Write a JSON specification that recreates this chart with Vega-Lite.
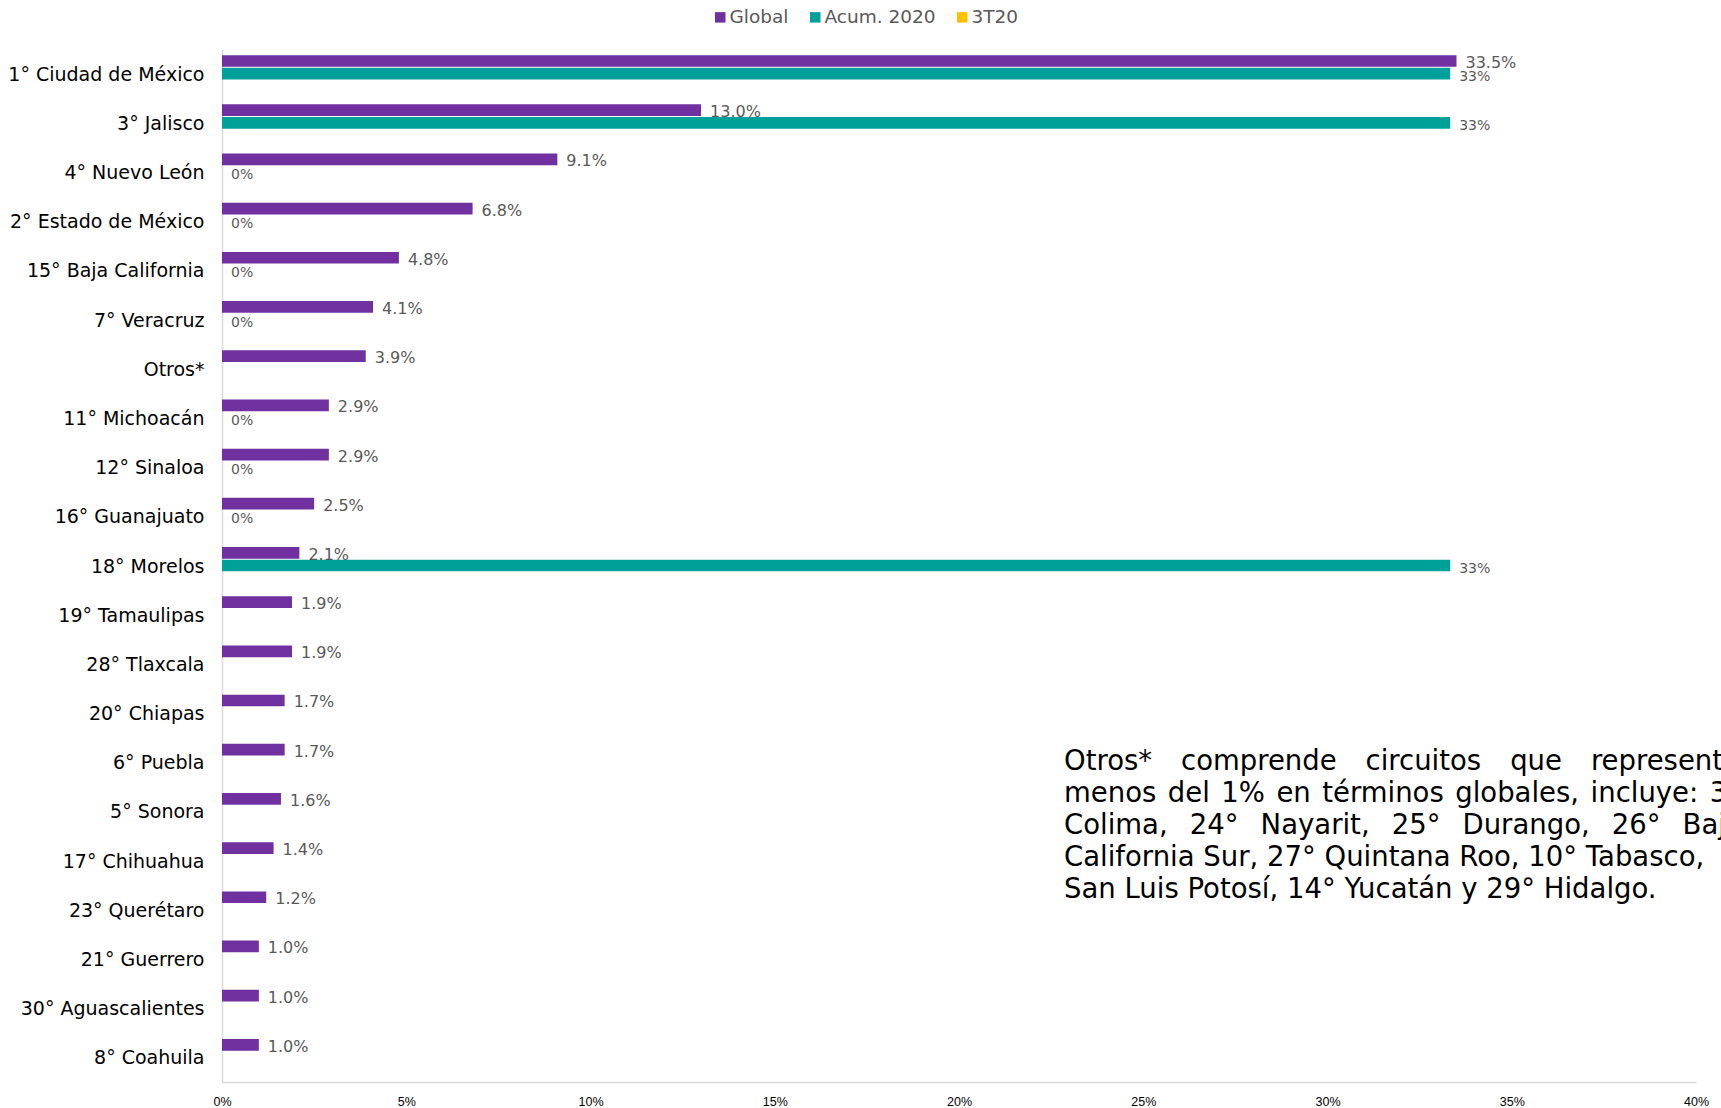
{
  "$schema": "https://vega.github.io/schema/vega-lite/v6.json",
  "width": 1474,
  "height": 1033,
  "autosize": {"type": "none"},
  "padding": {"left": 222, "top": 49, "right": 25, "bottom": 26},
  "background": "white",
  "config": {"view": {"stroke": null}, "font": "DejaVu Sans"},
  "layer": [
    {
      "data": {
        "values": [
          {"estado": "1° Ciudad de México", "serie": "Global", "valor": 0.335},
          {"estado": "1° Ciudad de México", "serie": "Acum. 2020", "valor": 0.3333},
          {"estado": "3° Jalisco", "serie": "Global", "valor": 0.13},
          {"estado": "3° Jalisco", "serie": "Acum. 2020", "valor": 0.3333},
          {"estado": "4° Nuevo León", "serie": "Global", "valor": 0.091},
          {"estado": "4° Nuevo León", "serie": "Acum. 2020", "valor": 0},
          {"estado": "2° Estado de México", "serie": "Global", "valor": 0.068},
          {"estado": "2° Estado de México", "serie": "Acum. 2020", "valor": 0},
          {"estado": "15° Baja California", "serie": "Global", "valor": 0.048},
          {"estado": "15° Baja California", "serie": "Acum. 2020", "valor": 0},
          {"estado": "7° Veracruz", "serie": "Global", "valor": 0.041},
          {"estado": "7° Veracruz", "serie": "Acum. 2020", "valor": 0},
          {"estado": "Otros*", "serie": "Global", "valor": 0.039},
          {"estado": "11° Michoacán", "serie": "Global", "valor": 0.029},
          {"estado": "11° Michoacán", "serie": "Acum. 2020", "valor": 0},
          {"estado": "12° Sinaloa", "serie": "Global", "valor": 0.029},
          {"estado": "12° Sinaloa", "serie": "Acum. 2020", "valor": 0},
          {"estado": "16° Guanajuato", "serie": "Global", "valor": 0.025},
          {"estado": "16° Guanajuato", "serie": "Acum. 2020", "valor": 0},
          {"estado": "18° Morelos", "serie": "Global", "valor": 0.021},
          {"estado": "18° Morelos", "serie": "Acum. 2020", "valor": 0.3333},
          {"estado": "19° Tamaulipas", "serie": "Global", "valor": 0.019},
          {"estado": "28° Tlaxcala", "serie": "Global", "valor": 0.019},
          {"estado": "20° Chiapas", "serie": "Global", "valor": 0.017},
          {"estado": "6° Puebla", "serie": "Global", "valor": 0.017},
          {"estado": "5° Sonora", "serie": "Global", "valor": 0.016},
          {"estado": "17° Chihuahua", "serie": "Global", "valor": 0.014},
          {"estado": "23° Querétaro", "serie": "Global", "valor": 0.012},
          {"estado": "21° Guerrero", "serie": "Global", "valor": 0.01},
          {"estado": "30° Aguascalientes", "serie": "Global", "valor": 0.01},
          {"estado": "8° Coahuila", "serie": "Global", "valor": 0.01}
        ]
      },
      "encoding": {
        "y": {
          "field": "estado",
          "type": "nominal",
          "scale": {
            "domain": ["1° Ciudad de México", "3° Jalisco", "4° Nuevo León", "2° Estado de México", "15° Baja California", "7° Veracruz", "Otros*", "11° Michoacán", "12° Sinaloa", "16° Guanajuato", "18° Morelos", "19° Tamaulipas", "28° Tlaxcala", "20° Chiapas", "6° Puebla", "5° Sonora", "17° Chihuahua", "23° Querétaro", "21° Guerrero", "30° Aguascalientes", "8° Coahuila"],
            "paddingInner": 0.25,
            "paddingOuter": 0.125
          },
          "axis": {
            "title": null,
            "labelFont": "DejaVu Sans",
            "labelFontSize": 19,
            "labelColor": "#000000",
            "labelPadding": 18,
            "labelLimit": 0,
            "labelOffset": 1,
            "ticks": false,
            "domainColor": "#D9D9D9",
            "domainWidth": 1.5
          }
        },
        "yOffset": {
          "field": "serie",
          "type": "nominal",
          "scale": {"domain": ["Global", "Acum. 2020", "3T20"], "paddingInner": 0.07}
        },
        "x": {
          "field": "valor",
          "type": "quantitative",
          "scale": {"domain": [0, 0.4], "nice": false},
          "axis": {
            "title": null,
            "values": [0, 0.05, 0.1, 0.15, 0.2, 0.25, 0.3, 0.35, 0.4],
            "format": ".0%",
            "grid": false,
            "ticks": false,
            "labelFlush": false,
            "labelOverlap": false,
            "labelFont": "Liberation Sans",
            "labelFontSize": 12.5,
            "labelColor": "#000000",
            "labelPadding": 13,
            "domainColor": "#D9D9D9",
            "domainWidth": 1.5
          }
        }
      },
      "layer": [
        {
          "mark": {"type": "bar"},
          "encoding": {
            "color": {
              "field": "serie",
              "type": "nominal",
              "scale": {"domain": ["Global", "Acum. 2020", "3T20"], "range": ["#7030A0", "#00A09A", "#FFC000"]},
              "legend": {
                "title": null,
                "orient": "none",
                "direction": "horizontal",
                "legendX": 489,
                "legendY": -41,
                "symbolType": "square",
                "symbolSize": 110,
                "symbolStrokeWidth": 0,
                "labelFont": "DejaVu Sans",
                "labelFontSize": 18.5,
                "labelColor": "#595959",
                "labelOffset": 0,
                "columnPadding": 17,
                "padding": 0
              }
            }
          }
        },
        {
          "transform": [{"filter": "datum.serie === 'Global'"}],
          "mark": {"type": "text", "align": "left", "baseline": "middle", "dx": 9, "dy": 2, "fontSize": 16, "color": "#595959"},
          "encoding": {"text": {"field": "valor", "type": "quantitative", "format": ".1%"}}
        },
        {
          "transform": [{"filter": "datum.serie === 'Acum. 2020'"}],
          "mark": {"type": "text", "align": "left", "baseline": "middle", "dx": 9, "dy": 3, "fontSize": 14, "color": "#595959"},
          "encoding": {"text": {"field": "valor", "type": "quantitative", "format": ".0%"}}
        }
      ]
    },
    {
      "data": {"values": [{"nota": "Otros*"}]},
      "mark": {
        "type": "text",
        "align": "left",
        "baseline": "alphabetic",
        "dy": 8,
        "fontSize": 27.5,
        "lineHeight": 32,
        "color": "#000000",
        "font": "DejaVu Sans",
        "text": [
          "Otros*\u00a0\u00a0\u200a comprende\u00a0\u00a0\u200a circuitos\u00a0\u00a0\u200a que\u00a0\u00a0\u200a representan",
          "menos\u200a del\u200a 1%\u200a en\u200a términos\u200a globales,\u200a incluye:\u200a 31°",
          "Colima,\u00a0\u2006 24°\u00a0\u2006 Nayarit,\u00a0\u2006 25°\u00a0\u2006 Durango,\u00a0\u2006 26°\u00a0\u2006 Baja",
          "California Sur, 27° Quintana Roo, 10° Tabasco,\u00a0\u00a0\u00a0 13°",
          "San Luis Potosí, 14° Yucatán y 29° Hidalgo."
        ]
      },
      "encoding": {
        "x": {"datum": 0.2285, "type": "quantitative"},
        "y": {"datum": "6° Puebla", "type": "nominal"}
      }
    }
  ]
}
